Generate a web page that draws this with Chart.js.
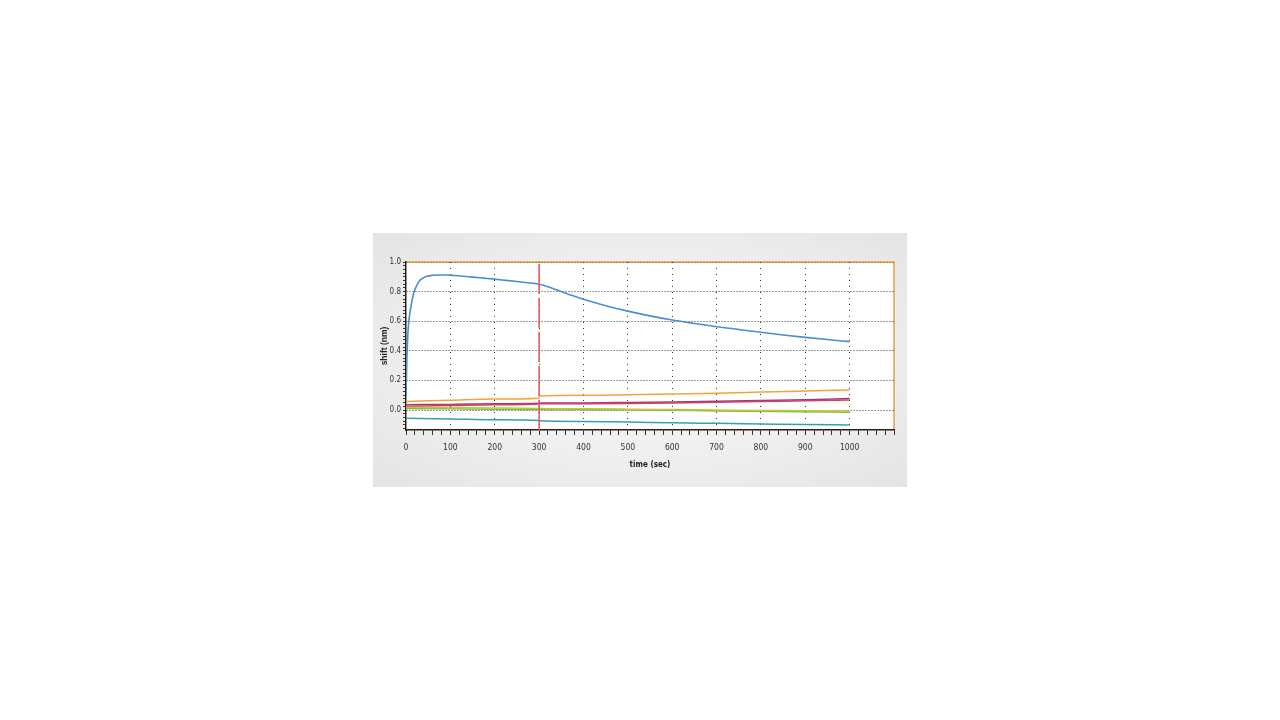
<!DOCTYPE html>
<html>
<head>
<meta charset="utf-8">
<script src="https://cdn.jsdelivr.net/npm/chart.js@4.4.1/dist/chart.umd.min.js"></script>
<style>
  html, body { margin:0; padding:0; background:#ffffff; width:1280px; height:720px; overflow:hidden; }
  #frame { position:absolute; left:373px; top:233px; width:534px; height:254px;
           background: radial-gradient(ellipse at center, #f7f7f7 0%, #efefef 55%, #e4e4e4 100%); }
  #c { position:absolute; left:0; top:0; width:534px; height:254px; }
</style>
</head>
<body>
<div id="frame"><canvas id="c" width="534" height="254"></canvas></div>
<script>
// ---- data ----
const blueTime  = [0, 1, 2, 4, 6, 9, 13, 17, 21, 28, 36, 47, 60, 75, 90, 110, 130, 150, 175, 200, 225, 250, 275, 290, 300, 310, 325, 350, 375, 400, 450, 500, 550, 600, 650, 700, 750, 800, 850, 900, 950, 1000];
const blueShift = [0.10, 0.22, 0.35, 0.50, 0.59, 0.66, 0.73, 0.785, 0.82, 0.862, 0.887, 0.903, 0.910, 0.912, 0.912, 0.909, 0.904, 0.898, 0.891, 0.884, 0.876, 0.868, 0.860, 0.855, 0.850, 0.843, 0.828, 0.801, 0.773, 0.748, 0.705, 0.668, 0.636, 0.608, 0.585, 0.563, 0.544, 0.525, 0.507, 0.491, 0.476, 0.462];

const lowTime     = [0, 100, 200, 299, 301, 400, 500, 600, 700, 800, 900, 1000];
const orangeShift = [0.058, 0.066, 0.074, 0.080, 0.094, 0.099, 0.103, 0.108, 0.114, 0.121, 0.128, 0.136];
const purpleShift = [0.036, 0.038, 0.042, 0.045, 0.047, 0.048, 0.051, 0.055, 0.060, 0.065, 0.070, 0.078];
const redShift    = [0.025, 0.030, 0.036, 0.041, 0.043, 0.042, 0.044, 0.048, 0.053, 0.058, 0.062, 0.068];
const oliveShift  = [0.018, 0.016, 0.014, 0.011, 0.010, 0.008, 0.006, 0.003, 0.000, -0.003, -0.005, -0.008];
const greenShift  = [0.010, 0.008, 0.006, 0.004, 0.003, 0.002, 0.001, -0.002, -0.006, -0.009, -0.012, -0.015];
const tealShift   = [-0.055, -0.060, -0.066, -0.071, -0.073, -0.077, -0.081, -0.086, -0.090, -0.094, -0.098, -0.101];

const markerTime  = [300, 300];
const markerShift = [-0.135, 1.0];

const xMin = 0, xMax = 1100, yMin = -0.135, yMax = 1.0;
const xTickValues = []; for (let k = 0; k <= 55; k++) xTickValues.push(k * 20);
const yTickValues = []; for (let k = -5; k <= 40; k++) yTickValues.push(Math.round(k * 25) / 1000);
const xLabelValues = [0, 100, 200, 300, 400, 500, 600, 700, 800, 900, 1000];
const yLabelValues = [0, 0.2, 0.4, 0.6, 0.8, 1.0];
const xGridValues = [100, 200, 300, 400, 500, 600, 700, 800, 900, 1000];
const yGridValues = [0, 0.2, 0.4, 0.6, 0.8];

const pts = (xs, ys) => xs.map((x, i) => ({x: x, y: ys[i]}));
const near = (v, arr) => arr.some(a => Math.abs(a - v) < 1e-6);

const narrowFamily = "'Liberation Sans Narrow', 'DejaVu Sans Condensed', 'Liberation Sans', sans-serif";

const line = (label, data, color, w) => ({
  label, data, borderColor: color, backgroundColor: color, borderWidth: w || 1.5,
  pointRadius: 0, cubicInterpolationMode: 'monotone', fill: false
});

const framePlugin = {
  id: 'frame',
  beforeDraw(chart) {
    const {ctx, chartArea: a} = chart;
    ctx.save();
    ctx.fillStyle = '#ffffff';
    ctx.fillRect(a.left, a.top, a.right - a.left, a.bottom - a.top);
    ctx.strokeStyle = '#e2a24a';
    ctx.lineWidth = 1.5;
    ctx.beginPath();
    ctx.moveTo(a.left, a.top); ctx.lineTo(a.right, a.top); ctx.lineTo(a.right, a.bottom);
    ctx.stroke();
    ctx.restore();
  }
};

new Chart(document.getElementById('c'), {
  type: 'line',
  data: {
    datasets: [
      Object.assign(line('marker', pts(markerTime, markerShift), '#e8545c', 1.5), {borderDash: [30, 4], cubicInterpolationMode: 'default', tension: 0}),
      line('teal', pts(lowTime, tealShift), '#2ea2b2'),
      line('olive', pts(lowTime, oliveShift), '#c6c23a'),
      line('green', pts(lowTime, greenShift), '#7dbf45'),
      line('red', pts(lowTime, redShift), '#d2405c'),
      line('purple', pts(lowTime, purpleShift), '#9c3a8e'),
      line('orange', pts(lowTime, orangeShift), '#f0a53a'),
      line('blue', pts(blueTime, blueShift), '#4a8ecf', 1.6)
    ]
  },
  options: {
    responsive: false,
    animation: false,
    devicePixelRatio: 1,
    layout: {padding: {top: 29, right: 13, left: 0, bottom: 0}},
    plugins: {legend: {display: false}, tooltip: {enabled: false}},
    scales: {
      x: {
        type: 'linear', min: xMin, max: xMax,
        afterBuildTicks: s => { s.ticks = xTickValues.map(v => ({value: v})); },
        afterFit: s => { s.height = 57; },
        ticks: {autoSkip: false, maxRotation: 0, padding: 8, color: '#333', font: {family: narrowFamily, size: 8.5},
                callback: v => near(v, xLabelValues) ? String(v) : ''},
        grid: {color: c => near(c.tick.value, xGridValues) ? '#333' : 'rgba(0,0,0,0)',
               tickColor: '#333', tickLength: 5, lineWidth: 1},
        border: {display: true, color: '#2a1e14', width: 1.5, dash: [1, 5]},
        title: {display: true, text: 'time (sec)', color: '#222', padding: {top: 0, bottom: 17},
                font: {family: narrowFamily, size: 8, weight: 'bold'}}
      },
      y: {
        type: 'linear', min: yMin, max: yMax,
        afterBuildTicks: s => { s.ticks = yTickValues.map(v => ({value: v})); },
        afterFit: s => { s.width = 33; },
        ticks: {autoSkip: false, padding: 2, color: '#333', font: {family: narrowFamily, size: 8},
                callback: v => near(v, yLabelValues) ? Number(v).toFixed(1) : ''},
        grid: {color: c => near(c.tick.value, yGridValues) ? '#333' : (near(c.tick.value, [1.0]) ? '#8a4a18' : 'rgba(0,0,0,0)'),
               tickColor: '#333', tickLength: 3, lineWidth: 1},
        border: {display: true, color: '#2a1e14', width: 1.5, dash: [1, 2]},
        title: {display: true, text: 'shift (nm)', color: '#222', padding: {top: 7, bottom: 0},
                font: {family: "'Liberation Sans', Arial, sans-serif", size: 8.5, weight: 'bold'}}
      }
    }
  },
  plugins: [framePlugin]
});
</script>
</body>
</html>
